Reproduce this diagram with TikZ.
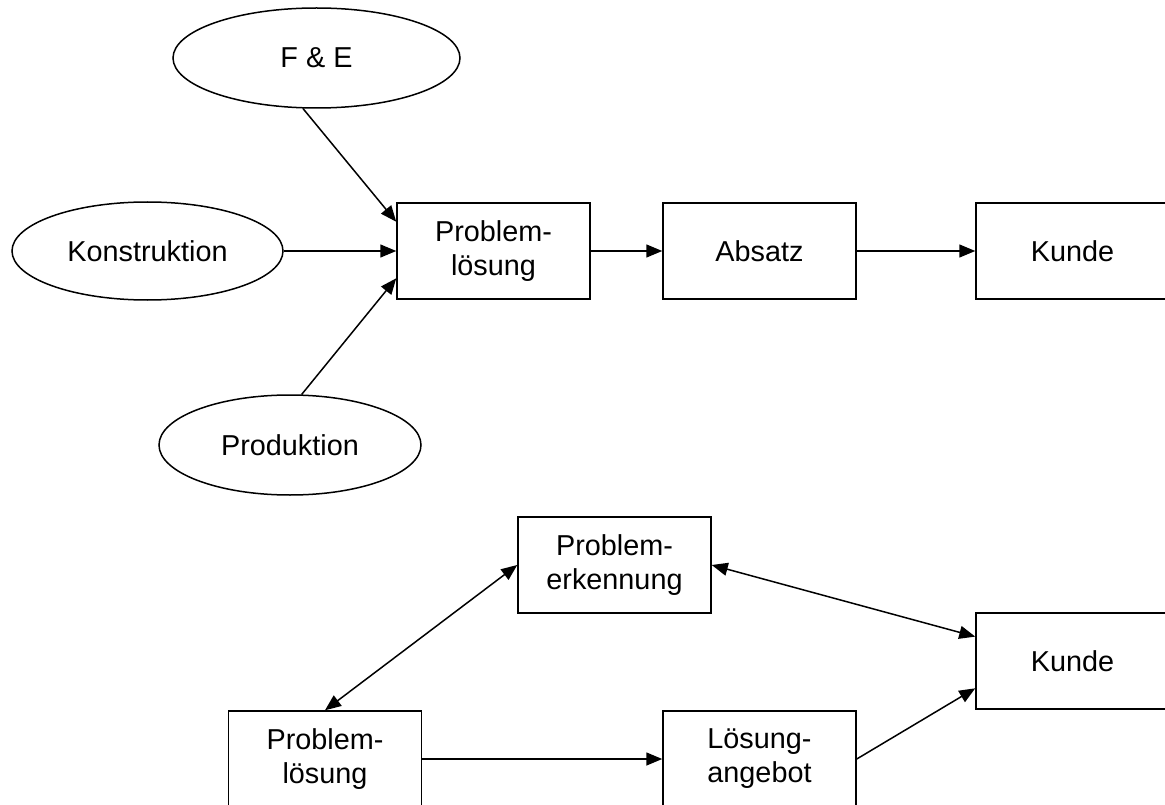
\documentclass[tikz,border=0pt]{standalone}
\usepackage{fontspec}
\setmainfont{Liberation Sans}
\usetikzlibrary{arrows.meta,calc,shapes.geometric}
\begin{document}
\begin{tikzpicture}[x=1pt,y=-1pt,
  every node/.style={font=\fontsize{28.8}{34}\selectfont, align=center, inner sep=0pt},
  box/.style={draw, line width=1.5pt, minimum width=193pt, minimum height=96pt},
  oval/.style={draw, ellipse, line width=1.5pt},
  link/.style={line width=1.5pt, -{Triangle[length=16pt,width=13pt]}},
  both/.style={line width=1.5pt, {Triangle[length=16pt,width=13pt]}-{Triangle[length=16pt,width=13pt]}}]
\useasboundingbox (0,0) rectangle (1165,805);
\clip (0,0) rectangle (1165,805);

% upper chain: departments feeding problem solving
\node[oval, minimum width=287pt, minimum height=100pt] (fe) at (316.5,58) {F \& E};
\node[oval, minimum width=271pt, minimum height=98pt] (ko) at (147.5,251) {Konstruktion};
\node[oval, minimum width=262pt, minimum height=100pt] (pr) at (290,445) {Produktion};
\node[box] (pl) at (493.5,251) {Problem-\\lösung};
\node[box] (ab) at (759.5,251) {Absatz};
\node[box] (ku) at (1072.5,251) {Kunde};

\draw[link] (fe.255) -- ($(pl.north west)!0.2!(pl.south west)$);
\draw[link] (ko.east) -- (pl.west);
\draw[link] (pr.77) -- ($(pl.north west)!0.78!(pl.south west)$);
\draw[link] (pl.east) -- (ab.west);
\draw[link] (ab.east) -- (ku.west);

% lower cycle with the customer
\node[box] (pe) at (614.5,565) {Problem-\\erkennung};
\node[box] (ku2) at (1072.5,661) {Kunde};
\node[box] (pl2) at (325,759) {Problem-\\lösung};
\node[box] (la) at (759.5,759) {Lösung-\\angebot};

\draw[both] (pl2.north) -- (pe.west);
\draw[both] (pe.east) -- ($(ku2.north west)!0.25!(ku2.south west)$);
\draw[link] (pl2.east) -- (la.west);
\draw[link] (la.east) -- ($(ku2.north west)!0.78!(ku2.south west)$);
\end{tikzpicture}
\end{document}
